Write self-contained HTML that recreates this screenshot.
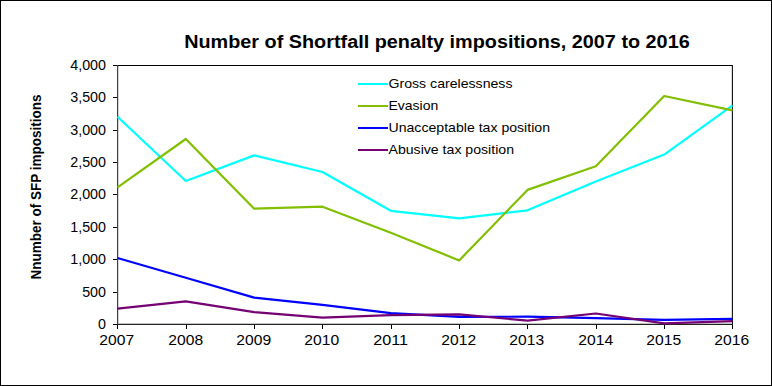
<!DOCTYPE html>
<html><head><meta charset="utf-8"><style>
html,body{margin:0;padding:0;background:#fff;}
svg{display:block;}
text{font-family:"Liberation Sans",sans-serif;fill:#000;}
</style></head><body>
<svg width="772" height="386" viewBox="0 0 772 386">
<rect x="0" y="0" width="772" height="386" fill="#fff"/>
<rect x="0.5" y="0.5" width="771" height="385" fill="none" stroke="#000" stroke-width="1"/>

<text x="184.2" y="48" font-size="18" font-weight="bold" textLength="505.5" lengthAdjust="spacingAndGlyphs">Number of Shortfall penalty impositions, 2007 to 2016</text>
<text transform="translate(41,279.5) rotate(-90)" x="0" y="0" font-size="15.5" font-weight="bold" textLength="185" lengthAdjust="spacingAndGlyphs">Nnumber of SFP impositions</text>
<g shape-rendering="crispEdges" fill="#000">
<rect x="118" y="66" width="614" height="258" fill="#fff"/>
<rect x="118" y="66" width="1" height="257" fill="#d4d4d4"/>
<rect x="118" y="323" width="614" height="1" fill="#c4c4c4"/>
<rect x="731" y="66" width="1" height="257" fill="#dadada"/>
<rect x="117" y="65" width="616" height="1"/>
<rect x="732" y="65" width="1" height="264" fill="#1a1a1a"/>
<rect x="117" y="65" width="1" height="260" fill="#404040"/>
<rect x="117" y="324" width="616" height="1" fill="#222"/>
<rect x="113" y="65" width="4" height="1"/>
<rect x="113" y="97" width="4" height="1"/>
<rect x="113" y="130" width="4" height="1"/>
<rect x="113" y="162" width="4" height="1"/>
<rect x="113" y="194" width="4" height="1"/>
<rect x="113" y="227" width="4" height="1"/>
<rect x="113" y="259" width="4" height="1"/>
<rect x="113" y="292" width="4" height="1"/>
<rect x="113" y="324" width="4" height="1"/>
<rect x="117" y="325" width="1" height="4"/>
<rect x="186" y="325" width="1" height="4"/>
<rect x="254" y="325" width="1" height="4"/>
<rect x="322" y="325" width="1" height="4"/>
<rect x="391" y="325" width="1" height="4"/>
<rect x="459" y="325" width="1" height="4"/>
<rect x="527" y="325" width="1" height="4"/>
<rect x="596" y="325" width="1" height="4"/>
<rect x="664" y="325" width="1" height="4"/>
<rect x="732" y="325" width="1" height="4"/>
</g>
<text x="106" y="70.0" font-size="14.3" text-anchor="end">4,000</text>
<text x="106" y="102.0" font-size="14.3" text-anchor="end">3,500</text>
<text x="106" y="135.0" font-size="14.3" text-anchor="end">3,000</text>
<text x="106" y="167.0" font-size="14.3" text-anchor="end">2,500</text>
<text x="106" y="199.0" font-size="14.3" text-anchor="end">2,000</text>
<text x="106" y="232.0" font-size="14.3" text-anchor="end">1,500</text>
<text x="106" y="264.0" font-size="14.3" text-anchor="end">1,000</text>
<text x="106" y="297.0" font-size="14.3" text-anchor="end">500</text>
<text x="106" y="329.0" font-size="14.3" text-anchor="end">0</text>
<text x="116.7" y="345" font-size="14.5" text-anchor="middle" textLength="34.8" lengthAdjust="spacingAndGlyphs">2007</text>
<text x="185.7" y="345" font-size="14.5" text-anchor="middle" textLength="34.8" lengthAdjust="spacingAndGlyphs">2008</text>
<text x="253.7" y="345" font-size="14.5" text-anchor="middle" textLength="34.8" lengthAdjust="spacingAndGlyphs">2009</text>
<text x="321.7" y="345" font-size="14.5" text-anchor="middle" textLength="34.8" lengthAdjust="spacingAndGlyphs">2010</text>
<text x="390.7" y="345" font-size="14.5" text-anchor="middle" textLength="34.8" lengthAdjust="spacingAndGlyphs">2011</text>
<text x="458.7" y="345" font-size="14.5" text-anchor="middle" textLength="34.8" lengthAdjust="spacingAndGlyphs">2012</text>
<text x="526.7" y="345" font-size="14.5" text-anchor="middle" textLength="34.8" lengthAdjust="spacingAndGlyphs">2013</text>
<text x="595.7" y="345" font-size="14.5" text-anchor="middle" textLength="34.8" lengthAdjust="spacingAndGlyphs">2014</text>
<text x="663.7" y="345" font-size="14.5" text-anchor="middle" textLength="34.8" lengthAdjust="spacingAndGlyphs">2015</text>
<text x="731.7" y="345" font-size="14.5" text-anchor="middle" textLength="34.8" lengthAdjust="spacingAndGlyphs">2016</text>
<polyline fill="none" stroke="#00ffff" stroke-width="2.2" stroke-linejoin="round" points="117.5,116.7 185.8,181.0 254.2,155.4 322.5,172.0 390.8,210.8 459.2,218.3 527.5,210.3 595.8,181.4 664.2,154.6 732.5,105.3"/>
<polyline fill="none" stroke="#82bf00" stroke-width="2.2" stroke-linejoin="round" points="117.5,187.3 185.8,139.0 254.2,208.7 322.5,206.7 390.8,232.7 459.2,260.4 527.5,189.9 595.8,166.2 664.2,96.0 732.5,110.4"/>
<polyline fill="none" stroke="#0000ff" stroke-width="2.2" stroke-linejoin="round" points="117.5,258.0 185.8,277.8 254.2,297.6 322.5,304.9 390.8,313.1 459.2,316.9 527.5,316.7 595.8,318.1 664.2,319.8 732.5,318.9"/>
<polyline fill="none" stroke="#740074" stroke-width="2.2" stroke-linejoin="round" points="117.5,308.7 185.8,301.4 254.2,312.2 322.5,317.6 390.8,315.2 459.2,314.3 527.5,320.6 595.8,313.5 664.2,323.3 732.5,321.2"/>
<rect x="358" y="83" width="30" height="2" fill="#00ffff"/>
<text x="388.5" y="88.4" font-size="13.3" textLength="124.0" lengthAdjust="spacingAndGlyphs">Gross carelessness</text>
<rect x="358" y="105" width="30" height="2" fill="#82bf00"/>
<text x="388.5" y="110.4" font-size="13.3" textLength="49.8" lengthAdjust="spacingAndGlyphs">Evasion</text>
<rect x="358" y="127" width="30" height="2" fill="#0000ff"/>
<text x="388.5" y="132.4" font-size="13.3" textLength="161.5" lengthAdjust="spacingAndGlyphs">Unacceptable tax position</text>
<rect x="358" y="149" width="30" height="2" fill="#740074"/>
<text x="388.5" y="154.4" font-size="13.3" textLength="125.5" lengthAdjust="spacingAndGlyphs">Abusive tax position</text>
</svg></body></html>
